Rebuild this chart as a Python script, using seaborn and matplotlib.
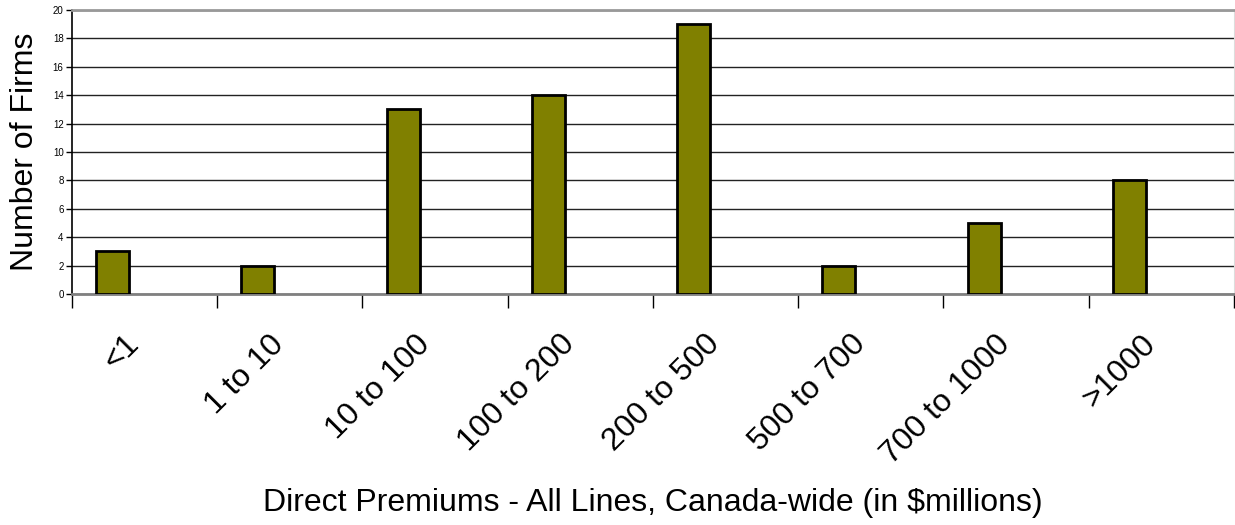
import matplotlib
matplotlib.use("Agg")
import matplotlib.pyplot as plt
import matplotlib.transforms as mtransforms
import seaborn as sns
import pandas as pd
import numpy as np

# Firms by direct premiums bucket
categories = ["<1", "1 to 10", "10 to 100", "100 to 200", "200 to 500",
              "500 to 700", "700 to 1000", ">1000"]
firms = [3, 2, 13, 14, 19, 2, 5, 8]

df = pd.DataFrame({"bucket": categories, "firms": firms})

sns.set_style("white")
plt.rcParams['font.family'] = ['Liberation Sans', 'DejaVu Sans']
plt.rcParams['text.color'] = 'black'
plt.rcParams['axes.labelcolor'] = 'black'
plt.rcParams['xtick.color'] = 'black'
plt.rcParams['ytick.color'] = 'black'

fig = plt.figure(figsize=(12.35, 5.25), dpi=100)
ax = fig.add_axes([72 / 1235, 1 - 294 / 525, (1234 - 72) / 1235, (294 - 10) / 525])

sns.barplot(data=df, x="bucket", y="firms", order=categories, color="#808000",
            width=0.228, edgecolor="black", linewidth=2, saturation=1, ax=ax)

# Excel-style: bars sit left of category centre
for p in ax.patches:
    p.set_x(p.get_x() - 0.22)
    p.set_zorder(3)

ax.set_xlim(-0.5, len(categories) - 0.5)
ax.set_ylim(0, 20)
ax.set_yticks(range(0, 21, 2))
ax.yaxis.grid(True, color="#222222", linewidth=1)
ax.set_axisbelow(True)

ax.tick_params(axis="y", labelsize=7, length=4, width=1, color="black", pad=2, left=True)
ax.set_xticks(range(len(categories)))
ax.set_xticklabels(categories, rotation=45, ha="right", va="center",
                   rotation_mode="anchor", fontsize=23)
ax.tick_params(axis="x", which="major", length=0, pad=33)
shift = mtransforms.ScaledTranslation(-10 / 100, 0, fig.dpi_scale_trans)
for lbl in ax.get_xticklabels():
    lbl.set_transform(lbl.get_transform() + shift)
ax.set_xticks(np.arange(-0.5, len(categories) + 0.5, 1), minor=True)
ax.tick_params(axis="x", which="minor", length=10, width=1, color="black", bottom=True)

ax.spines["left"].set_color("black")
ax.spines["left"].set_linewidth(1.2)
ax.spines["bottom"].set_color("#808080")
ax.spines["bottom"].set_linewidth(2)
ax.spines["top"].set_color("#999999")
ax.spines["top"].set_linewidth(2)
ax.spines["right"].set_color("#dddddd")

ax.set_xlabel("Direct Premiums - All Lines, Canada-wide (in $millions)", fontsize=23)
ax.set_ylabel("Number of Firms", fontsize=23)
ax.xaxis.set_label_coords(0.5, -(503 - 294) / 284)
ax.yaxis.set_label_coords(-(72 - 25) / 1162, 0.5)
ax.xaxis.label.set_va("center")
ax.yaxis.label.set_va("center")

fig.savefig("out.png", dpi=100)
